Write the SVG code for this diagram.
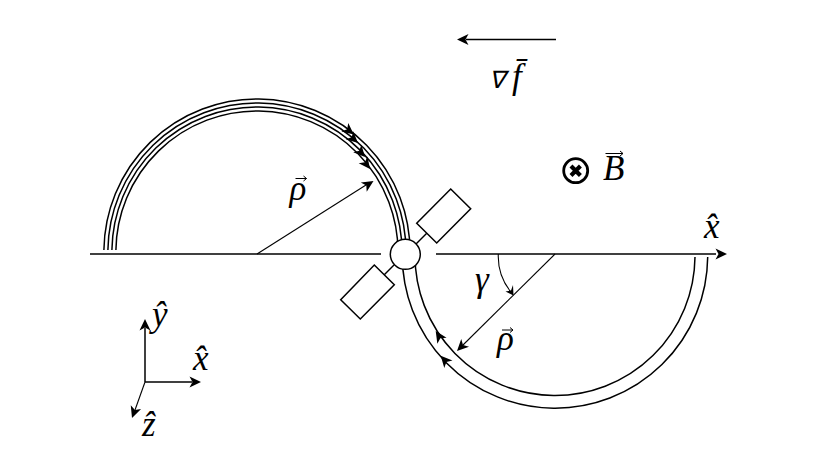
<svg xmlns="http://www.w3.org/2000/svg" xmlns:xlink="http://www.w3.org/1999/xlink" width="830" height="467" viewBox="0 0 830 467">
<style>
.l{fill:none;stroke:#000;stroke-width:1.5}
.t{fill:none;stroke:#000;stroke-width:1.1}
.b{fill:#fff;stroke:#000;stroke-width:1.5}
.m{font-family:"Liberation Serif",serif;font-style:italic;font-size:35px;fill:#000}
.n{font-size:24px}
.h{fill:#000}
.a{fill:none;stroke:#000;stroke-width:1}
</style>
<defs>
<path id="head" class="h" d="M0 0L-11.500 -5.500L-8.500 0L-11.500 5.500Z"/>
<path id="acc" class="a" d="M0 0H11M8 -2.500L11 0L8 2.500"/>
</defs>
<rect width="830" height="467" fill="#fff"/>
<g id="connectors">
<path class="l" d="M90 254H381"/>
<path class="l" d="M436 254H716"/>
<use xlink:href="#head" transform="translate(727 254)"/>
<path class="l" d="M556 39.500H466"/>
<use xlink:href="#head" transform="translate(457 39.500) rotate(180)"/>
<path class="t" d="M257 254L366 185"/>
<use xlink:href="#head" transform="translate(373.500 181) rotate(-32.300)"/>
<path class="t" d="M555 254L463 345"/>
<use xlink:href="#head" transform="translate(457 351) rotate(135)"/>
<path class="t" d="M498.300 254A57 57 0 0 0 512.500 294"/>
<path class="h" d="M513.500 295.500L505.500 291.500L511 290.500L513 285Z"/>
<path class="l" d="M145 382V328"/>
<use xlink:href="#head" transform="translate(145 319) rotate(-90)"/>
<path class="l" d="M145 382H192"/>
<use xlink:href="#head" transform="translate(201 382)"/>
<path class="t" d="M145 382L135 410"/>
<use xlink:href="#head" transform="translate(132 418) rotate(110)"/>
</g>
<g id="upper-beam">
<path class="l" d="M103.900 250A153 153 0 0 1 410 254"/>
<path class="l" d="M107.900 250A149 149 0 0 1 406 254"/>
<path class="l" d="M111.900 250A145 145 0 0 1 402 254"/>
<path class="l" d="M115.900 250A141 141 0 0 1 398 254"/>
<use xlink:href="#head" transform="translate(353.800 134.500) rotate(38.700)"/>
<use xlink:href="#head" transform="translate(358 143) rotate(42.300)"/>
<use xlink:href="#head" transform="translate(365 157) rotate(48)"/>
<use xlink:href="#head" transform="translate(370 169) rotate(53)"/>
</g>
<g id="lower-beam">
<path class="l" d="M695 257A140 140 0 1 1 415 254"/>
<path class="l" d="M707.700 257A152.700 152.700 0 1 1 402.300 254"/>
<use xlink:href="#head" transform="translate(435.700 331) rotate(-123)"/>
<use xlink:href="#head" transform="translate(440.700 355.700) rotate(-132)"/>
</g>
<g id="detector-upper">
<path class="l" d="M416 244L427 233"/>
<path class="b" d="M450.700 189L470.700 208.700L436.700 243L416.700 223.300Z"/>
</g>
<g id="detector-lower">
<path class="l" d="M394 265L384 275"/>
<path class="b" d="M374.300 265L394.300 284.700L360.300 319L340.700 299.700Z"/>
</g>
<g id="target"><circle class="b" cx="405.300" cy="254.300" r="15"/></g>
<g id="field">
<circle cx="575.700" cy="170.700" r="12" fill="none" stroke="#000" stroke-width="2.800"/>
<path d="M571 166L580.400 175.400M580.400 166L571 175.400" fill="none" stroke="#000" stroke-width="4.200"/>
<text class="m" x="603" y="180">B</text>
<path class="a" d="M605.500 153.500H623M620 151L623 153.500L620 156"/>
</g>
<g id="labels">
<text class="m n" x="489" y="88">∇</text>
<text class="m" x="512" y="88">f̄</text>
<text class="m" x="704" y="238">x̂</text>
<text class="m" x="289.500" y="200">ρ</text>
<use xlink:href="#acc" x="295.500" y="178.500"/>
<text class="m" x="475" y="291">γ</text>
<text class="m" x="497" y="350">ρ</text>
<use xlink:href="#acc" x="502" y="330"/>
<text class="m" x="152" y="326">ŷ</text>
<text class="m" x="193" y="370">x̂</text>
<text class="m" x="142" y="436">ẑ</text>
</g>
</svg>
